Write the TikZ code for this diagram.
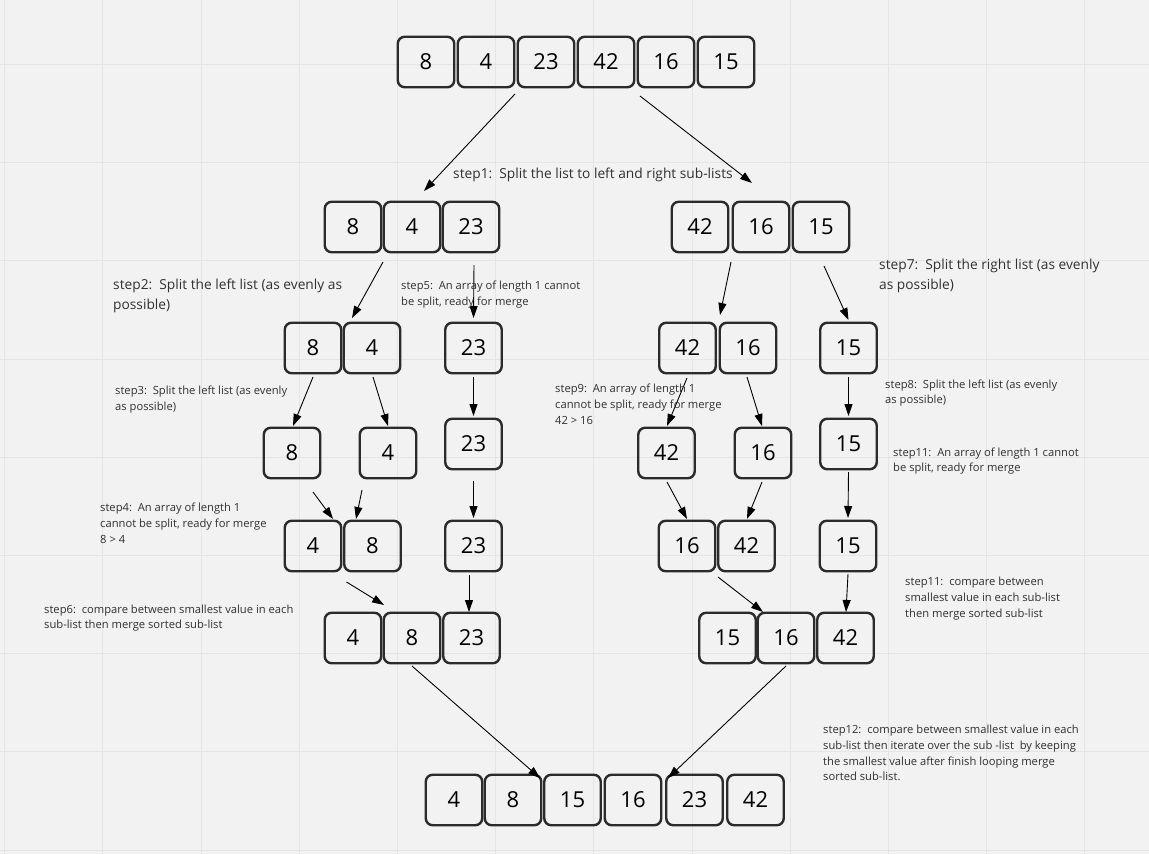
\documentclass[tikz,border=0pt]{standalone}
\usepackage{fontspec}
\setmainfont{Open Sans}
\usetikzlibrary{arrows.meta}

\definecolor{paper}{HTML}{F2F2F2}
\definecolor{gridc}{HTML}{E5E5E5}
\definecolor{edge}{HTML}{2B2B2B}
\definecolor{note}{HTML}{303030}

\tikzset{
  cell/.style={draw=edge, line width=2.4pt, rounded corners=7pt,
    minimum width=56.5pt, minimum height=50.5pt, inner sep=0pt,
    font=\fontsize{22}{26}\selectfont},
  arr/.style={-{Triangle[length=12pt,width=8pt]}, line width=0.9pt},
  bignote/.style={anchor=west, inner sep=0pt, align=left, text=note,
    font=\fontsize{13.75}{20}\selectfont},
  smallnote/.style={anchor=west, inner sep=0pt, align=left, text=note,
    font=\fontsize{11.2}{15.8}\selectfont},
}

\begin{document}
\begin{tikzpicture}[x=1pt, y=-1pt]

% --- Canvas ---
\fill[paper] (0,0) rectangle (1149,854);
\useasboundingbox (0,0) rectangle (1149,854);
\foreach \k in {0,...,11}
  \draw[gridc, line width=1.1pt] ({4.7+98.2*\k},0) -- ++(0,854);
\foreach \k in {0,...,8}
  \draw[gridc, line width=1.1pt] (0,{64.5+98.2*\k}) -- ++(1149,0);

% --- Lists (value/x/y) ---
\foreach \v/\x/\y [count=\i] in {8/426/62, 4/486/62, 23/546/62, 42/606/62, 16/666/62, 15/726/62}
  \node[cell] (a\i) at (\x,\y) {\v};
\foreach \v/\x/\y [count=\i] in {8/353/227, 4/412/227, 23/471/227, 42/700/227, 16/761/227, 15/821/227}
  \node[cell] (b\i) at (\x,\y) {\v};
\foreach \v/\x/\y [count=\i] in {8/313/348, 4/372/348, 23/473.5/348, 42/687.5/348, 16/748/348, 15/848.5/348}
  \node[cell] (c\i) at (\x,\y) {\v};
\foreach \v/\x/\y [count=\i] in {8/292/453, 4/388/453, 23/473.5/444, 42/666.5/453, 16/763/453, 15/848.5/444}
  \node[cell] (d\i) at (\x,\y) {\v};
\foreach \v/\x/\y [count=\i] in {4/313/546, 8/372.5/546, 23/473.5/546, 16/687/546, 42/746.5/546, 15/848/546}
  \node[cell] (e\i) at (\x,\y) {\v};
\foreach \v/\x/\y [count=\i] in {4/353/638, 8/412/638, 23/471.5/638, 15/727.5/638, 16/786/638, 42/845.5/638}
  \node[cell] (f\i) at (\x,\y) {\v};
\foreach \v/\x/\y [count=\i] in {4/454/800, 8/513/800, 15/572.5/800, 16/633/800, 23/694.5/800, 42/755.5/800}
  \node[cell] (g\i) at (\x,\y) {\v};

% --- Arrows (from/offset -> to/offset) ---
\foreach \s/\sx/\sy/\t/\tx/\ty in {
    a3/-31/32/b2/12/-36, a4/34/34/b5/-9/-44,
    b2/-29/35/c2/-20/-30, b3/3/38/c3/0/-30, b5/-30/35/c4/32.5/-33, b6/3/39/c6/0/-28,
    c1/0/29/d1/1/-27, c2/1/29/d2/0/-27, c3/0/29/d3/0/-28,
    c4/-0.5/30/d4/0.5/-27, c5/-1/29/d5/-1/-27, c6/0/29/d6/0/-28,
    d1/21/39/e1/20/-27, d2/-26/37/e2/-16.5/-27, d3/0/37/e3/0/-28,
    d4/0.5/29/e4/0/-27, d5/-1/29/e5/0.5/-27, d6/0/28/e6/0/-28,
    e1/33.5/36/f2/-28/-33, e3/-4.5/29/f3/-2.5/-26, e4/31/31/f5/-23/-26, e6/0/28/f6/0.5/-26,
    f2/0/28/g2/27/-22, f5/0/28/g5/-26.5/-22}
  \draw[arr] ([shift={(\sx,\sy)}]\s.center) -- ([shift={(\tx,\ty)}]\t.center);

% --- Notes ---
\node[bignote] (s1) at (453,175) {step1:~~Split the list to left and right sub-lists};
\node[bignote] (s2) at (113,296) {step2:~~Split the left list (as evenly as\\possible)};
\node[bignote] (s7) at (879,276) {step7:~~Split the right list (as evenly\\as possible)};
\node[smallnote] (s5) at (401,294.5) {step5:~~An array of length 1 cannot\\be split, ready for merge};
\node[smallnote] (s3) at (115,399.5) {step3:~~Split the left list (as evenly\\as possible)};
\node[smallnote] (s9) at (555,404) {step9:~~An array of length 1\\cannot be split, ready for merge\\42 > 16};
\node[smallnote] (s8) at (885,393) {step8:~~Split the left list (as evenly\\as possible)};
\node[smallnote] (s11a) at (893,461) {step11:~~An array of length 1 cannot\\be split, ready for merge};
\node[smallnote] (s4) at (100,523) {step4:~~An array of length 1\\cannot be split, ready for merge\\8 > 4};
\node[smallnote] (s6) at (44,618) {step6:~~compare between smallest value in each\\sub-list then merge sorted sub-list};
\node[smallnote] (s11b) at (905,598.5) {step11:~~compare between\\smallest value in each sub-list\\then merge sorted sub-list};
\node[smallnote] (s12) at (823,753) {step12:~~compare between smallest value in each\\sub-list then iterate over the sub -list~~by keeping\\the smallest value after finish looping merge\\sorted sub-list.};

\end{tikzpicture}
\end{document}
